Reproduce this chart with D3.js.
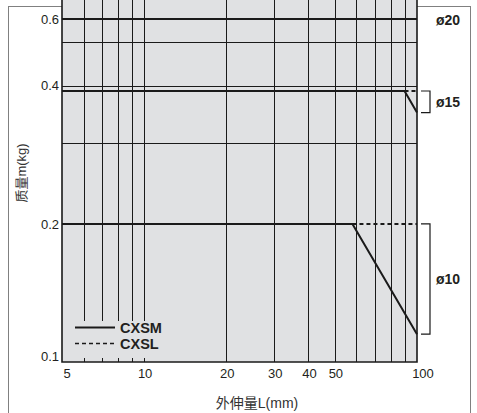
<!DOCTYPE html>
<html lang="zh">
<head>
  <meta charset="UTF-8" />
  <title>外伸量L - 质量m</title>
  <script src="https://d3js.org/d3.v7.min.js"></script>
  <style>
    body { margin:0; padding:0; background:#fff; }
    svg { display:block; font-family:"Liberation Sans", Arial, sans-serif; }
    .tick { font-size:13px; fill:#231f20; }
    .grid { stroke:#1a1a1a; stroke-width:1; }
    .series { fill:none; stroke:#1a1a1a; stroke-width:2; }
    .bore { font-size:14px; font-weight:bold; fill:#231f20; }
    .cjk { font-family:"Liberation Sans", "Noto Sans CJK SC", sans-serif; fill:#333; }
  </style>
</head>
<body>
<svg width="477" height="413"></svg>
<script>
  // grid / tick values
  const xGrid = [6, 7, 8, 9, 10, 20, 30, 40, 50, 60, 70, 80, 90];
  const xTickLabels = [5, 10, 20, 30, 40, 50, 100];
  const yGrid = [0.3, 0.4, 0.5];
  const yTickLabels = [0.1, 0.2, 0.4, 0.6];

  // CXSM (solid) lines, points as [L(mm), m(kg)]
  const cxsm = [
    { bore: "ø20", pts: [[5, 0.6], [100, 0.6]] },
    { bore: "ø15", pts: [[5, 0.39], [90, 0.39], [100, 0.35]] },
    { bore: "ø10", pts: [[5, 0.2], [58, 0.2], [100, 0.115]] }
  ];
  // CXSL (dashed) lines
  const cxsl = [
    { bore: "ø15", pts: [[90, 0.39], [100, 0.39]] },
    { bore: "ø10", pts: [[58, 0.2], [100, 0.2]] }
  ];
  // bracket ranges on the right
  const bores = [
    { name: "ø20", hi: 0.6, lo: 0.6 },
    { name: "ø15", hi: 0.39, lo: 0.35 },
    { name: "ø10", hi: 0.2, lo: 0.115 }
  ];
  const legendItems = [
    { name: "CXSM", dash: null },
    { name: "CXSL", dash: "4,3" }
  ];

  const svg = d3.select("svg");
  const X0 = 62, X1 = 417, YB = 362;

  const x = d3.scaleLog().domain([5, 100]).range([X0, X1]);
  // the printed chart is log scale but its top (0.6) sits lower than a pure log would put it
  const y = d3.scaleLog().domain([0.1, 0.5, 0.6]).range([YB, 41.5, 19]);

  // outer frame
  svg.append("rect")
    .attr("x", 8.5).attr("y", 6.5).attr("width", 462).attr("height", 430)
    .attr("fill", "#fff").attr("stroke", "#808080").attr("stroke-width", 1);

  // plot background
  svg.append("rect")
    .attr("x", X0).attr("y", 0).attr("width", X1 - X0).attr("height", YB)
    .attr("fill", "#e0e1e3");

  const g = svg.append("g");

  // vertical grid
  g.selectAll(".vg").data(xGrid).enter().append("line")
    .attr("class", "grid")
    .attr("x1", d => Math.round(x(d)) + 0.5).attr("x2", d => Math.round(x(d)) + 0.5)
    .attr("y1", 0).attr("y2", YB);

  // horizontal grid
  g.selectAll(".hg").data(yGrid).enter().append("line")
    .attr("class", "grid")
    .attr("x1", X0).attr("x2", X1)
    .attr("y1", d => Math.round(y(d)) + 0.5).attr("y2", d => Math.round(y(d)) + 0.5);

  // legend box hides the grid behind it
  const legX = 75, legY = 327.5;
  svg.append("rect")
    .attr("x", X0 + 1).attr("y", 321).attr("width", 113).attr("height", 37)
    .attr("fill", "#e0e1e3");

  // axes frame (left, bottom, right)
  svg.append("path")
    .attr("d", `M${X0},0V${YB}H${X1}V0`)
    .attr("fill", "none").attr("stroke", "#1a1a1a").attr("stroke-width", 1.6);

  const line = d3.line().x(d => x(d[0])).y(d => y(d[1]));

  svg.selectAll(".cxsl").data(cxsl).enter().append("path")
    .attr("class", "series")
    .attr("stroke-width", 1.3)
    .attr("stroke-dasharray", "4,3")
    .attr("d", d => line(d.pts));

  svg.selectAll(".cxsm").data(cxsm).enter().append("path")
    .attr("class", "series")
    .attr("d", d => line(d.pts));

  // y tick labels
  svg.selectAll(".ylab").data(yTickLabels).enter().append("text")
    .attr("class", "tick")
    .attr("x", 59)
    .attr("y", d => Math.max(15, Math.min(356, y(d))))
    .attr("dy", "0.35em")
    .attr("text-anchor", "end")
    .text(d => d);

  // x tick labels
  svg.selectAll(".xlab").data(xTickLabels).enter().append("text")
    .attr("class", "tick")
    .attr("x", (d, i) => x(d) + (i === 0 ? 5 : i === xTickLabels.length - 1 ? 6 : 1))
    .attr("y", 373)
    .attr("dy", "0.35em")
    .attr("text-anchor", "middle")
    .text(d => d);

  // axis titles
  svg.append("text")
    .attr("class", "cjk")
    .attr("x", 257).attr("y", 403).attr("dy", "0.35em")
    .attr("text-anchor", "middle")
    .attr("font-size", 14)
    .text("外伸量L(mm)");

  svg.append("text")
    .attr("class", "cjk")
    .attr("transform", "translate(21,173) rotate(-90)")
    .attr("dy", "0.35em")
    .attr("text-anchor", "middle")
    .attr("font-size", 13)
    .text("质量m(kg)");

  // brackets + bore labels
  const bx = 430, btick = 9;
  bores.forEach(b => {
    const y1 = y(b.hi), y2 = y(b.lo);
    if (b.hi !== b.lo) {
      svg.append("path")
        .attr("d", `M${bx - btick},${y1}H${bx}V${y2}H${bx - btick}`)
        .attr("fill", "none").attr("stroke", "#1a1a1a").attr("stroke-width", 1.2);
    }
    svg.append("text")
      .attr("class", "bore")
      .attr("x", 436)
      .attr("y", (y1 + y2) / 2 + (b.hi === b.lo ? 1 : 0))
      .attr("dy", "0.35em")
      .text(b.name);
  });

  // legend
  const leg = svg.selectAll(".leg").data(legendItems).enter().append("g")
    .attr("transform", (d, i) => `translate(${legX},${legY + i * 16})`);
  leg.append("line")
    .attr("x1", 0).attr("x2", 40).attr("y1", 0).attr("y2", 0)
    .attr("stroke", "#1a1a1a")
    .attr("stroke-width", d => d.dash ? 1.3 : 2)
    .attr("stroke-dasharray", d => d.dash);
  leg.append("text")
    .attr("x", 45).attr("dy", "0.36em")
    .attr("font-size", 14.5).attr("font-weight", "bold").attr("fill", "#231f20")
    .text(d => d.name);
</script>
</body>
</html>
